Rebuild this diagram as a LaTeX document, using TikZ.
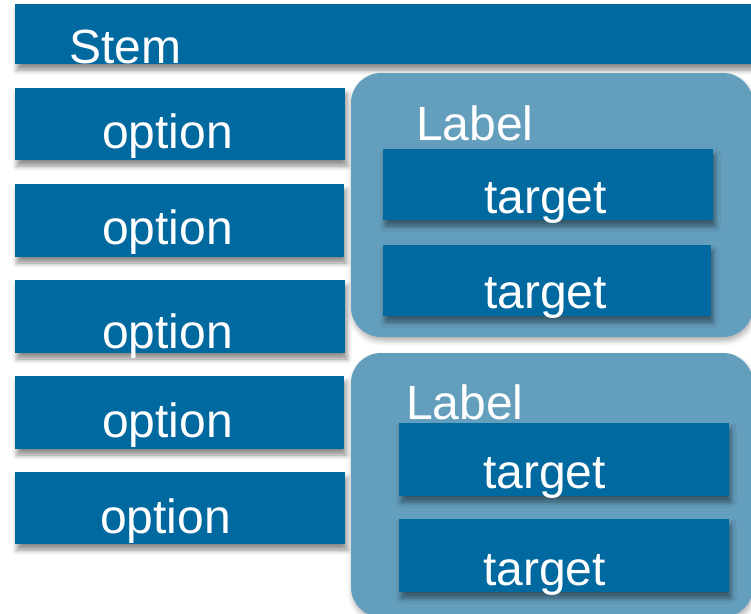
\documentclass[tikz,border=0pt]{standalone}
\usepackage{fontspec}
\setmainfont{Liberation Sans}
\usetikzlibrary{shadows.blur}
\definecolor{boxblue}{RGB}{0,105,160}
\definecolor{groupblue}{RGB}{100,158,189}
\tikzset{
  softshadow/.style={blur shadow={shadow xshift=2pt, shadow yshift=-6pt,
      shadow blur radius=5pt, shadow opacity=45}},
  bluebox/.style={rectangle, fill=boxblue, draw=none, inner sep=0pt, outer sep=0pt,
      anchor=north west, softshadow},
  groupbox/.style={rectangle, rounded corners=30pt, fill=groupblue, draw=none,
      inner sep=0pt, outer sep=0pt, anchor=north west,
      blur shadow={shadow xshift=1pt, shadow yshift=-4pt, shadow blur radius=5pt,
      shadow opacity=30}},
  txt/.style={text=white, anchor=base west, inner sep=0pt,
      font=\fontsize{48}{56}\selectfont},
}
\begin{document}
\begin{tikzpicture}[x=1pt, y=-1pt]
\useasboundingbox (0,0) rectangle (751,613);
\clip (0,0) rectangle (751,613);

% header bar
\node[bluebox, minimum width=745pt, minimum height=60pt] (stem) at (15,4) {};
\node[txt] (stemtxt) at (69,63) {Stem};

% option column
\node[bluebox, minimum width=330pt, minimum height=72pt] (o1) at (15,88) {};
\node[bluebox, minimum width=329pt, minimum height=73pt] (o2) at (15,184) {};
\node[bluebox, minimum width=330pt, minimum height=73pt] (o3) at (15,280) {};
\node[bluebox, minimum width=329pt, minimum height=73pt] (o4) at (15,376) {};
\node[bluebox, minimum width=330pt, minimum height=72pt] (o5) at (15,472) {};
\node[txt] (o1t) at (102,148) {option};
\node[txt] (o2t) at (102,244) {option};
\node[txt] (o3t) at (102,348) {option};
\node[txt] (o4t) at (102,437) {option};
\node[txt] (o5t) at (100,533) {option};

% first group
\node[groupbox, minimum width=402pt, minimum height=264pt] (g1) at (351,73) {};
\node[txt] (g1l) at (416,140) {Label};
\node[bluebox, minimum width=330pt, minimum height=71pt] (t1) at (383,149) {};
\node[bluebox, minimum width=328pt, minimum height=71pt] (t2) at (383,245) {};
\node[txt] (t1t) at (484,213) {target};
\node[txt] (t2t) at (484,308) {target};

% second group
\node[groupbox, minimum width=402pt, minimum height=264pt] (g2) at (351,353) {};
\node[txt] (g2l) at (406,419) {Label};
\node[bluebox, minimum width=330pt, minimum height=73pt] (t3) at (399,423) {};
\node[bluebox, minimum width=330pt, minimum height=73pt] (t4) at (399,519) {};
\node[txt] (t3t) at (483,488) {target};
\node[txt] (t4t) at (483,585) {target};
\end{tikzpicture}
\end{document}
